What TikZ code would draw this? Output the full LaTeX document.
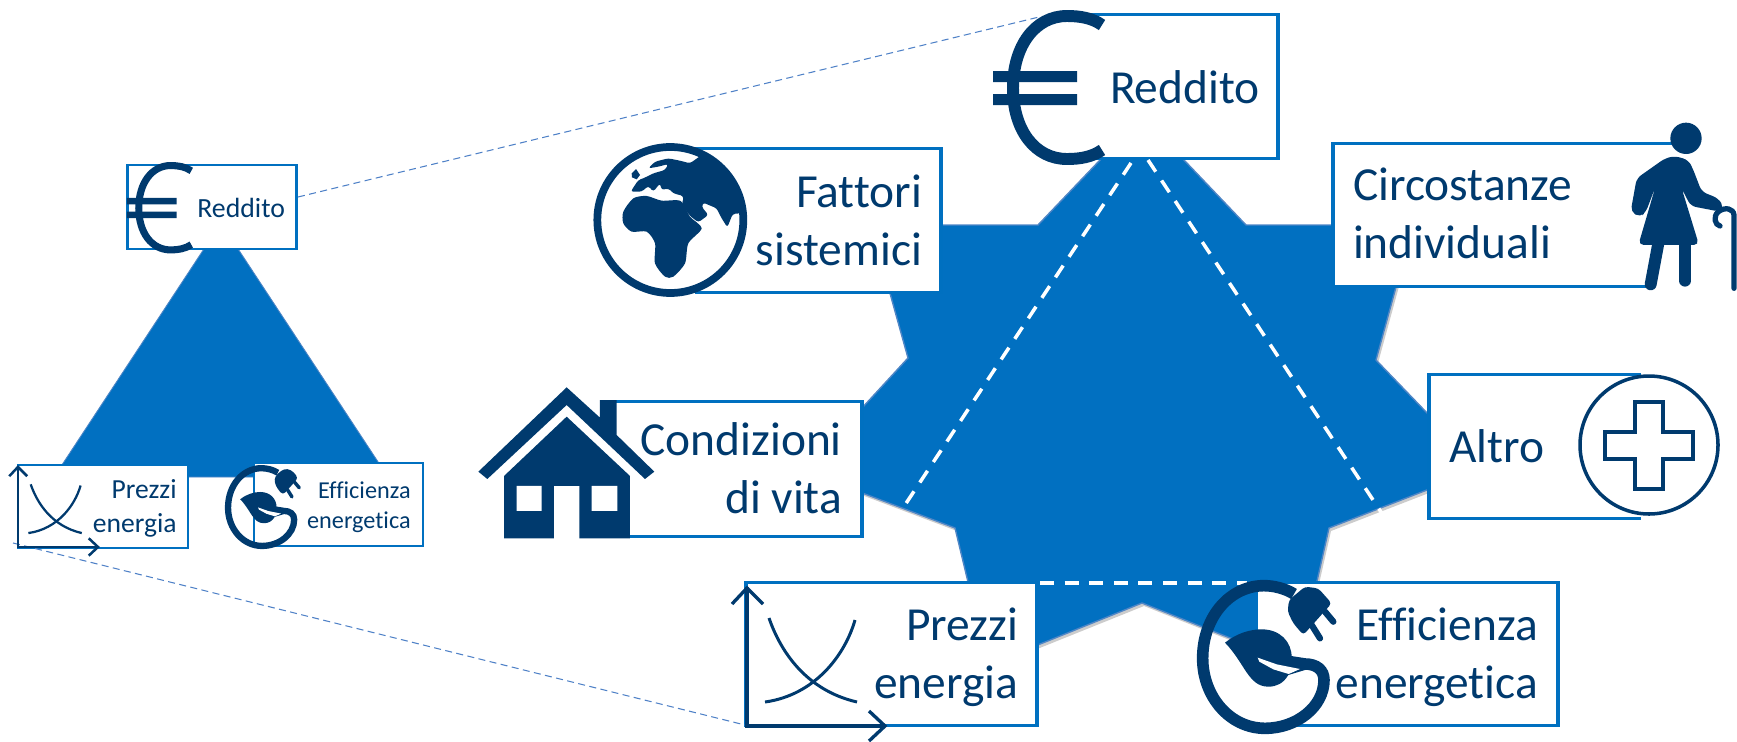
\documentclass[tikz,border=0pt]{standalone}
\usepackage{fontspec}
\setmainfont[Ligatures=NoCommon]{Carlito}
\definecolor{navy}{HTML}{003A6E}
\definecolor{boxblue}{HTML}{0070C0}
\definecolor{starblue}{HTML}{0170C1}
\definecolor{starline}{HTML}{4F86C6}
\definecolor{thinblue}{HTML}{4F81C7}
\tikzset{
  panel/.style={fill=white,inner sep=0pt,outer sep=0pt},
  edgeline/.style={draw=boxblue,line width=1.8pt,line join=miter},
  smallpanel/.style={panel,draw=boxblue,line width=1.3pt},
  bigtext/.style={text=navy,inner sep=0pt,outer sep=0pt,font=\fontsize{27}{33}\selectfont},
  guide/.style={draw=white,line width=2pt,dash pattern=on 8pt off 6pt},
  zoomguide/.style={draw=thinblue,line width=0.6pt,dash pattern=on 4pt off 2.5pt},
}
% Icons, each in the full-size coordinates of the large version; #1 = scale of line widths
\newcommand{\iconEuro}[1]{%
  \draw[navy,line width=#1*6.8pt] (1102,25) .. controls (1092,18) and (1080,16) .. (1067,16)
     .. controls (1035,16) and (1013,46) .. (1013,88)
     .. controls (1013,130) and (1035,159) .. (1067,159)
     .. controls (1080,159) and (1092,157) .. (1102,150);
  \fill[navy] (993,71) rectangle (1077,82) (993,94) rectangle (1077,105);
}
\newcommand{\iconAxes}[1]{%
  \draw[navy,line width=#1*1.9pt,line join=miter] (747,587) -- (747,726) -- (885,726);
  \draw[navy,line width=#1*1.9pt] (732,604) -- (747,588) -- (763,604);
  \draw[navy,line width=#1*1.9pt] (869,711) -- (885,726) -- (869,741);
  \draw[navy,line width=#1*1.7pt] (769,618) .. controls (780,650) and (805,690) .. (857,702);
  \draw[navy,line width=#1*1.7pt] (855,620) .. controls (845,655) and (815,695) .. (765,702);
}
\newcommand{\iconPlug}[1]{%
  \begin{scope}[shift={(1190,570)},scale=0.3333]
    \fill[navy] (105,218) .. controls (140,190) and (180,178) .. (215,178)
      .. controls (270,178) and (305,215) .. (305,262) -- (345,300) -- (295,315)
      .. controls (280,340) and (260,350) .. (235,350)
      .. controls (175,350) and (165,280) .. (105,218) -- cycle;
    \draw[navy,line width=#1*6.6pt] (312,72) .. controls (285,55) and (250,47) .. (222,47)
      .. controls (120,47) and (38,140) .. (38,265)
      .. controls (38,380) and (120,475) .. (225,475)
      .. controls (320,475) and (402,410) .. (402,330)
      .. controls (402,300) and (380,282) .. (345,282) -- (300,275);
    \fill[white] (203,263) -- (260,283) -- (330,297) -- (296,312) -- (250,298) -- (208,275) -- cycle;
    \fill[navy,rounded corners=2pt] (297,90) -- (345,50) -- (385,55) -- (425,100) -- (340,195) -- (310,160) -- (293,125) -- cycle;
    \draw[navy,line width=#1*3.6pt,line cap=round] (405,125) -- (430,155);
    \draw[navy,line width=#1*3.6pt,line cap=round] (365,165) -- (390,205);
  \end{scope}
}
\begin{document}
\begin{tikzpicture}[x=0.02cm,y=-0.02cm]
\useasboundingbox (0,0) rectangle (1737,741);

% ---------- large star ----------
\fill[black,opacity=0.2] (1144,119) -- (1248,228) -- (1415,228) -- (1378,363) -- (1483,472) -- (1331,531) -- (1300,668) -- (1144,606) -- (990,668) -- (957,531) -- (806,474) -- (910,361) -- (873,228) -- (1040,228) -- cycle;
\draw[starline,line width=0.8pt,fill=starblue] (1142,116) -- (1246,225) -- (1413,225) -- (1376,360) -- (1481,469) -- (1329,528) -- (1298,665) -- (1142,603) -- (988,665) -- (955,528) -- (804,471) -- (908,358) -- (871,225) -- (1038,225) -- cycle;

% ---------- small triangle ----------
\draw[starline,line width=0.5pt,fill=starblue] (221,223) -- (388,477) -- (54,477) -- cycle;

% ---------- large panels ----------
\node[panel,minimum width=4.36cm,minimum height=2.88cm] (redditoL) at (1169,86.5) {};
\node[panel,minimum width=6.78cm,minimum height=2.86cm] (circoL) at (1502.5,215) {};
\node[panel,minimum width=4.92cm,minimum height=2.88cm] (fattoriL) at (818,220.5) {};
\node[panel,minimum width=5.14cm,minimum height=2.7cm] (condL) at (733.5,469) {};
\node[panel,minimum width=4.24cm,minimum height=2.88cm] (altroL) at (1535,446.5) {};
\node[panel,minimum width=5.82cm,minimum height=2.86cm] (prezziL) at (891.5,654) {};
\node[panel,minimum width=6.0cm,minimum height=2.86cm] (effL) at (1408,654) {};

\draw[edgeline] (redditoL.north west) -- (redditoL.north east) -- (redditoL.south east) -- (redditoL.south west);
\draw[edgeline] (circoL.north east) -- (circoL.north west) -- (circoL.south west) -- ++(317,0);
\draw[edgeline] (fattoriL.north west) -- (fattoriL.north east) -- (fattoriL.south east) -- (fattoriL.south west);
\draw[edgeline] (condL.north west) -- (condL.north east) -- (condL.south east) -- (condL.south west);
\draw[edgeline] (altroL.north east) -- (altroL.north west) -- (altroL.south west) -- (altroL.south east);
\draw[edgeline] (prezziL.north west) rectangle (prezziL.south east);
\draw[edgeline] (effL.north west) -- (effL.north east) -- (effL.south east) -- (effL.south west);

% ---------- white dashed triangle inside the star ----------
\coordinate (gTopA) at (1131,163);
\coordinate (gLeft) at (897,517);
\coordinate (gTopB) at (1148,160);
\coordinate (gRight) at (1383,515);
\coordinate (gBotA) at (1040,583);
\coordinate (gBotB) at (1247,583);
\draw[guide] (gTopA) -- (gLeft);
\draw[guide] (gTopB) -- (gRight);
\draw[guide] (gBotA) -- (gBotB);

% ---------- small panels ----------
\node[smallpanel,minimum width=3.38cm,minimum height=1.68cm] (redditoS) at (212,207) {};
\node[smallpanel,minimum width=3.4cm,minimum height=1.66cm] (prezziS) at (103,506.5) {};
\node[smallpanel,minimum width=3.38cm,minimum height=1.66cm] (effS) at (338.5,504.5) {};

% ---------- thin dashed zoom lines ----------
\coordinate (zoomTopA) at (298,197);
\coordinate (zoomTopB) at (1039,17);
\coordinate (zoomBotA) at (13,543);
\coordinate (zoomBotB) at (745,725);
\draw[zoomguide] (zoomTopA) -- (zoomTopB);
\draw[zoomguide] (zoomBotA) -- (zoomBotB);

% ---------- icons, large ----------
\iconEuro{1}
\iconAxes{1}
\iconPlug{1}

% globe
\begin{scope}[shift={(590,140)},scale=0.3333]
  \draw[navy,line width=4.4pt] (241,240) circle (219);
  \begin{scope}
    \clip (241,240) circle (222);
    \fill[navy,rounded corners=1.5pt] (335,45) -- (300,70) -- (270,62) -- (235,55) -- (195,65) -- (175,85) -- (205,80) -- (235,72) -- (225,90) -- (190,100) -- (160,115) -- (145,120) -- (122,155) -- (155,155) -- (175,138) -- (190,155) -- (210,130) -- (215,150) -- (235,145) -- (250,160) -- (280,168) -- (280,180) -- (275,192) -- (300,228) -- (325,247) -- (355,225) -- (335,200) -- (340,188) -- (380,205) -- (395,235) -- (412,262) -- (428,222) -- (447,220) -- (480,220) -- (480,60) -- (400,10) -- cycle;
    \fill[navy] (125,100) -- (138,87) -- (150,105) -- (140,118) -- (126,112) -- cycle;
    \fill[navy] plot[smooth cycle,tension=0.45] coordinates {(272,183) (215,182) (170,168) (130,175) (100,215) (100,250) (125,275) (170,275) (195,310) (195,370) (225,410) (250,410) (285,370) (295,310) (335,265) (300,230)};
  \end{scope}
\end{scope}

% house
\begin{scope}[shift={(460,370)},scale=0.3333]
  \fill[navy] (320,52) -- (420,143) -- (420,90) -- (470,90) -- (470,195) -- (583,305) -- (555,327) -- (320,105) -- (82,327) -- (55,305) -- cycle;
  \fill[navy] (320,140) -- (510,318) -- (510,505) -- (358,505) -- (358,348) -- (282,348) -- (282,505) -- (132,505) -- (132,318) -- cycle;
  \fill[white] (170,348) rectangle (245,423) (395,348) rectangle (472,423);
\end{scope}

% person
\begin{scope}[shift={(1620,110)},scale=0.3333]
  \fill[navy] (198,85) circle (47);
  \fill[navy,rounded corners=3pt] (165,138) -- (205,150) -- (218,175) -- (245,245) -- (295,265) -- (312,292) -- (300,305) -- (212,288) -- (185,235) -- (237,405) -- (55,405) -- (107,228) -- (78,305) -- (60,322) -- (32,305) -- (50,205) -- (135,145) -- cycle;
  \draw[navy,line width=6.8pt,line cap=round] (115,400) -- (92,523);
  \draw[navy,line width=6.8pt,line cap=round] (195,400) -- (195,512);
  \draw[navy,line width=3pt,line cap=round] (342,535) -- (342,315) .. controls (340,295) and (315,290) .. (295,305) .. controls (278,320) and (285,345) .. (300,348);
\end{scope}

% plus
\draw[navy,line width=2pt,fill=white] (1649,445) circle (69);
\draw[navy,line width=1.9pt] (1635,402) -- (1663,402) -- (1663,432) -- (1693,432) -- (1693,459) -- (1663,459) -- (1663,489) -- (1635,489) -- (1635,459) -- (1605,459) -- (1605,432) -- (1635,432) -- cycle;

% ---------- icons, small ----------
\begin{scope}[shift={(-458.9,156.1)},scale=0.59]
  \iconEuro{0.59}
\end{scope}
\begin{scope}[shift={(-415.3,125.9)},scale=0.58]
  \iconAxes{0.75}
\end{scope}
\begin{scope}[shift={(-427.4,149)},scale=0.545]
  \iconPlug{0.545}
\end{scope}

% ---------- texts, large (the anchor is on the baseline of the last line) ----------
\node[bigtext,anchor=base west] (tReddito) at (1110,103) {Reddito};
\node[bigtext,anchor=base east,align=right] (tFattori) at (922,265) {Fattori\\sistemici};
\node[bigtext,anchor=base west,align=left] (tCirco) at (1353,258) {Circostanze\\individuali};
\node[bigtext,anchor=base east,align=right] (tCond) at (842,513) {Condizioni\\di vita};
\node[bigtext,anchor=base west] (tAltro) at (1449,462) {Altro};
\node[bigtext,anchor=base east,align=right] (tPrezzi) at (1018,698) {Prezzi\\energia};
\node[bigtext,anchor=base east,align=right] (tEff) at (1538,698) {Efficienza\\energetica};

% ---------- texts, small ----------
\node[text=navy,inner sep=0pt,anchor=base west,font=\fontsize{15.8}{19}\selectfont] (sReddito) at (197,217) {Reddito};
\node[text=navy,inner sep=0pt,anchor=base east,align=right,font=\fontsize{15.7}{19.3}\selectfont] (sPrezzi) at (177,532) {Prezzi\\energia};
\node[text=navy,inner sep=0pt,anchor=base east,align=right,font=\fontsize{13.8}{17}\selectfont] (sEff) at (411,528) {Efficienza\\energetica};
\end{tikzpicture}
\end{document}
